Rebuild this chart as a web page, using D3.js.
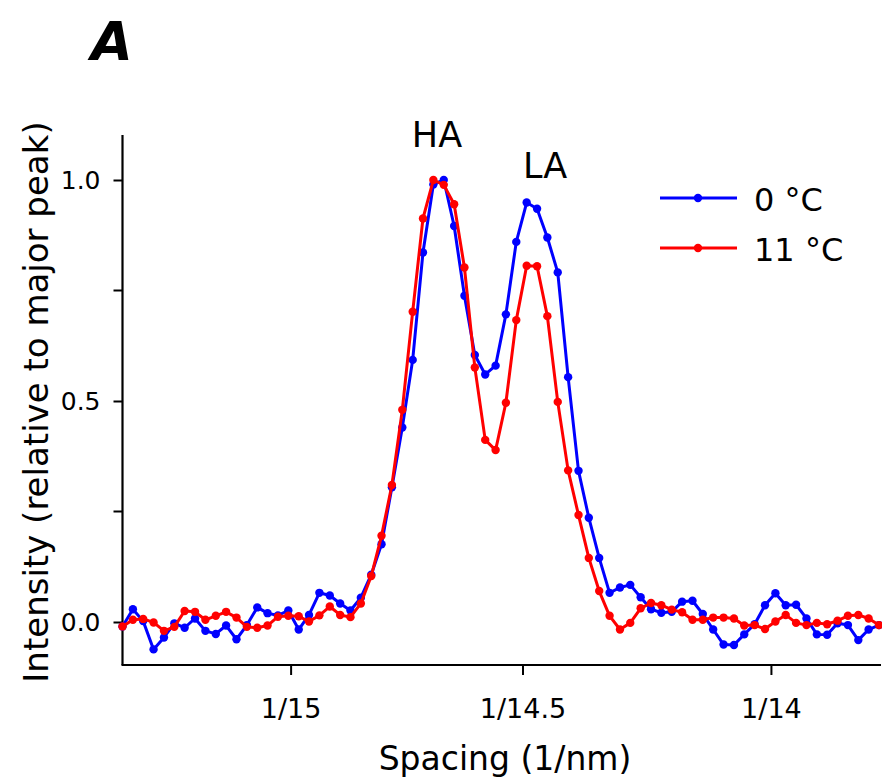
<!DOCTYPE html>
<html>
<head>
<meta charset="utf-8">
<script src="https://cdn.jsdelivr.net/npm/d3@7"></script>
<style>
  html, body { margin: 0; padding: 0; background: #fff; }
  svg text { font-family: "DejaVu Sans", "Noto Sans", sans-serif; fill: #000; }
</style>
</head>
<body>
<svg id="chart" width="882" height="781"></svg>
<script>
// ---- data ----
const spacing = [
  0.065000, 0.065103, 0.065205, 0.065308, 0.065411, 0.065514, 0.065616, 0.065719, 0.065822, 0.065925,
  0.066027, 0.066130, 0.066233, 0.066336, 0.066438, 0.066541, 0.066644, 0.066747, 0.066849, 0.066952,
  0.067055, 0.067158, 0.067260, 0.067363, 0.067466, 0.067568, 0.067671, 0.067774, 0.067877, 0.067979,
  0.068082, 0.068185, 0.068288, 0.068390, 0.068493, 0.068596, 0.068699, 0.068801, 0.068904, 0.069007,
  0.069110, 0.069212, 0.069315, 0.069418, 0.069521, 0.069623, 0.069726, 0.069829, 0.069932, 0.070034,
  0.070137, 0.070240, 0.070342, 0.070445, 0.070548, 0.070651, 0.070753, 0.070856, 0.070959, 0.071062,
  0.071164, 0.071267, 0.071370, 0.071473, 0.071575, 0.071678, 0.071781, 0.071884, 0.071986, 0.072089,
  0.072192, 0.072295, 0.072397, 0.072500
];
const intensity0C = [
  -0.010, 0.029, 0.002, -0.062, -0.035, -0.003, -0.013, 0.008, -0.020, -0.027,
  -0.008, -0.039, -0.007, 0.033, 0.020, 0.015, 0.026, -0.017, 0.016, 0.066,
  0.060, 0.042, 0.026, 0.055, 0.107, 0.176, 0.305, 0.440, 0.593, 0.836,
  0.990, 1.000, 0.896, 0.738, 0.604, 0.560, 0.580, 0.696, 0.860, 0.949,
  0.935, 0.870, 0.791, 0.554, 0.342, 0.236, 0.145, 0.066, 0.078, 0.084,
  0.056, 0.029, 0.021, 0.023, 0.046, 0.048, 0.018, -0.017, -0.051, -0.052,
  -0.028, -0.005, 0.038, 0.065, 0.038, 0.039, 0.008, -0.028, -0.029, -0.003,
  -0.007, -0.041, -0.017, -0.007
];
const intensity11C = [
  -0.010, 0.005, 0.007, -0.001, -0.020, -0.011, 0.025, 0.023, 0.005, 0.014,
  0.023, 0.010, -0.011, -0.013, -0.008, 0.012, 0.014, 0.013, 0.001, 0.015,
  0.035, 0.016, 0.011, 0.042, 0.104, 0.195, 0.310, 0.480, 0.702, 0.913,
  1.000, 0.989, 0.945, 0.802, 0.576, 0.412, 0.389, 0.496, 0.683, 0.806,
  0.805, 0.692, 0.498, 0.343, 0.242, 0.145, 0.070, 0.014, -0.017, -0.002,
  0.031, 0.043, 0.038, 0.028, 0.022, 0.005, 0.005, 0.010, 0.010, 0.008,
  -0.008, -0.007, -0.016, 0.001, 0.016, -0.002, -0.007, -0.002, -0.005, 0.003,
  0.014, 0.016, 0.008, -0.007
];
const seriesNames = ["0 °C", "11 °C"];
const seriesColors = ["#0000ff", "#ff0000"];
const xTickValues = [1/15, 1/14.5, 1/14];
const xTickLabels = ["1/15", "1/14.5", "1/14"];
const yTickValues = [0, 0.5, 1.0];
const yMinorTicks = [0.25, 0.75];
const peakLabels = ["HA", "LA"];

// ---- layout ----
const svg = d3.select("#chart");
const plotLeft = 122.5, plotRight = 879, plotTop = 135, plotBottom = 665;

const x = d3.scaleLinear().domain([0.065, 0.0725]).range([plotLeft, plotRight]);
const y = d3.scaleLinear().domain([0, 1]).range([622, 180]);

// axes
const xAxis = d3.axisBottom(x).tickValues(xTickValues)
  .tickFormat((d, i) => xTickLabels[i]).tickSizeOuter(0).tickSize(10).tickPadding(24);
const gx = svg.append("g").attr("transform", `translate(0,${plotBottom})`).call(xAxis);
gx.attr("font-size", null).attr("font-family", null);
gx.select(".domain").attr("d", `M${plotLeft - 1},0H${881}`).attr("stroke-width", 2.2);
gx.selectAll(".tick line").attr("stroke-width", 2);
gx.selectAll("text").style("font-size", "27px");

const yAxis = d3.axisLeft(y).tickValues(yTickValues)
  .tickFormat(d3.format(".1f")).tickSizeOuter(0).tickSize(9).tickPadding(13);
const gy = svg.append("g").attr("transform", `translate(${plotLeft},0)`).call(yAxis);
gy.attr("font-size", null).attr("font-family", null);
gy.select(".domain").attr("d", `M0,${plotTop}V${plotBottom}`).attr("stroke-width", 2.2);
gy.selectAll(".tick line").attr("stroke-width", 2);
gy.selectAll("text").style("font-size", "25px");
gy.selectAll(".minor").data(yMinorTicks).enter().append("line").attr("class", "minor")
  .attr("x1", -9).attr("x2", 0).attr("y1", d => y(d)).attr("y2", d => y(d))
  .attr("stroke", "#000").attr("stroke-width", 2);

// series
const series = [intensity0C, intensity11C];
const line = d3.line().x((d, i) => x(spacing[i])).y(d => y(d));
series.forEach((vals, k) => {
  const g = svg.append("g");
  g.append("path").datum(vals).attr("d", line)
    .attr("fill", "none").attr("stroke", seriesColors[k]).attr("stroke-width", 3)
    .attr("stroke-linejoin", "round");
  g.selectAll("circle").data(vals).enter().append("circle")
    .attr("cx", (d, i) => x(spacing[i])).attr("cy", d => y(d)).attr("r", 4.2)
    .attr("fill", seriesColors[k]);
});

// legend
seriesNames.forEach((name, k) => {
  const ly = 198 + k * 50;
  svg.append("line").attr("x1", 660).attr("x2", 737).attr("y1", ly).attr("y2", ly)
    .attr("stroke", seriesColors[k]).attr("stroke-width", 3);
  svg.append("circle").attr("cx", 698).attr("cy", ly).attr("r", 4.2).attr("fill", seriesColors[k]);
  svg.append("text").attr("x", 754).attr("y", ly + 13).style("font-size", "32px").text(name);
});

// peak labels
svg.append("text").attr("x", 437).attr("y", 147).attr("text-anchor", "middle").style("font-size", "35px").text(peakLabels[0]);
svg.append("text").attr("x", 545).attr("y", 178).attr("text-anchor", "middle").style("font-size", "35px").text(peakLabels[1]);

// titles
svg.append("text").attr("x", 505).attr("y", 770).attr("text-anchor", "middle").style("font-size", "33px")
  .text("Spacing (1/nm)");
svg.append("text").attr("transform", "translate(48,402) rotate(-90)").attr("text-anchor", "middle")
  .style("font-size", "34px").text("Intensity (relative to major peak)");
svg.append("text").attr("x", 91).attr("y", 60).style("font-size", "54px").attr("font-style", "italic")
  .attr("font-weight", "bold").text("A");
</script>
</body>
</html>
